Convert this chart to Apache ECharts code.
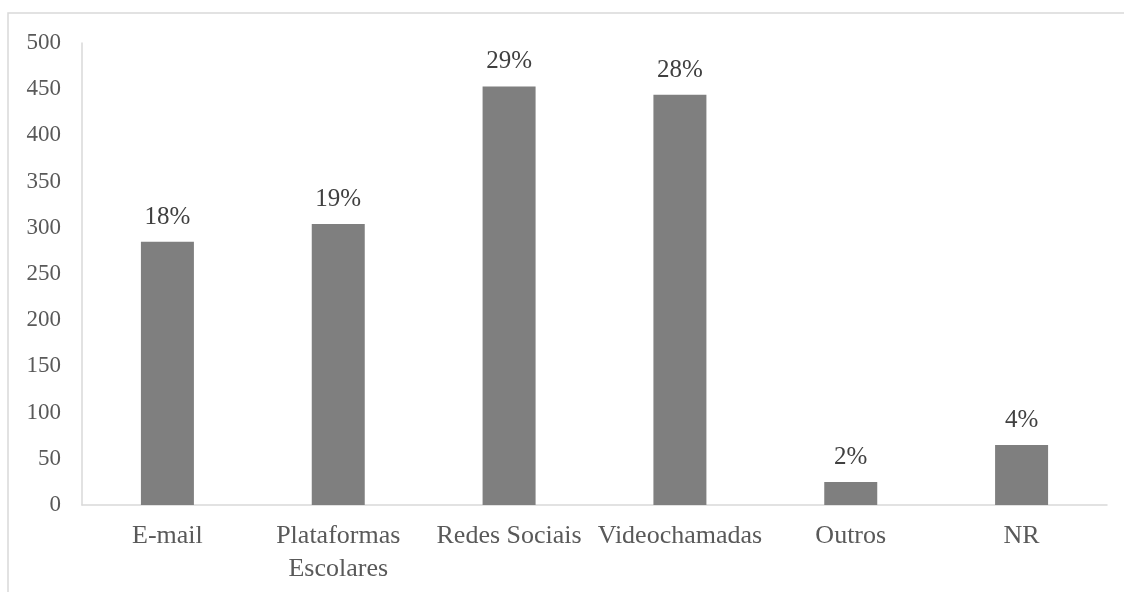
<!DOCTYPE html>
<html>
<head>
<meta charset="utf-8">
<script src="https://cdn.jsdelivr.net/npm/echarts@6/dist/echarts.min.js"></script>
<style>
html,body{margin:0;padding:0;background:#fff;}
#chart{width:1124px;height:592px;}
</style>
</head>
<body>
<div id="chart"></div>
<script>
const categories = ['E-mail', 'Plataformas\nEscolares', 'Redes Sociais', 'Videochamadas', 'Outros', 'NR'];
const values = [285, 304, 453, 444, 25, 65];
const percentLabels = ['18%', '19%', '29%', '28%', '2%', '4%'];
const yTicks = [0, 50, 100, 150, 200, 250, 300, 350, 400, 450, 500];

const chart = echarts.init(document.getElementById('chart'));
const serif = '"Liberation Serif", "Times New Roman", serif';
chart.setOption({
  animation: false,
  backgroundColor: '#ffffff',
  graphic: [{
    type: 'rect',
    shape: { x: 8, y: 13, width: 1300, height: 800 },
    style: { fill: 'none', stroke: '#d9d9d9', lineWidth: 1.5 },
    silent: true,
    z: -10
  }],
  grid: { left: 82, right: 17, top: 43, bottom: 87, containLabel: false },
  xAxis: {
    type: 'category',
    data: categories,
    axisLine: { show: true, lineStyle: { color: '#d9d9d9', width: 1.5 } },
    axisTick: { show: false },
    axisLabel: {
      interval: 0,
      margin: 15,
      fontFamily: serif,
      fontSize: 26,
      lineHeight: 33,
      color: '#595959'
    }
  },
  yAxis: {
    type: 'value',
    min: yTicks[0],
    max: yTicks[yTicks.length - 1],
    interval: 50,
    axisLine: { show: true, lineStyle: { color: '#d9d9d9', width: 1.5 } },
    axisTick: { show: false },
    splitLine: { show: false },
    axisLabel: {
      margin: 21,
      fontFamily: serif,
      fontSize: 23,
      color: '#595959'
    }
  },
  series: [{
    type: 'bar',
    data: values,
    barWidth: 53,
    itemStyle: { color: '#7f7f7f' },
    label: {
      show: true,
      position: 'top',
      distance: 12,
      fontFamily: serif,
      fontSize: 25,
      color: '#404040',
      formatter: p => percentLabels[p.dataIndex]
    }
  }]
});
</script>
</body>
</html>
